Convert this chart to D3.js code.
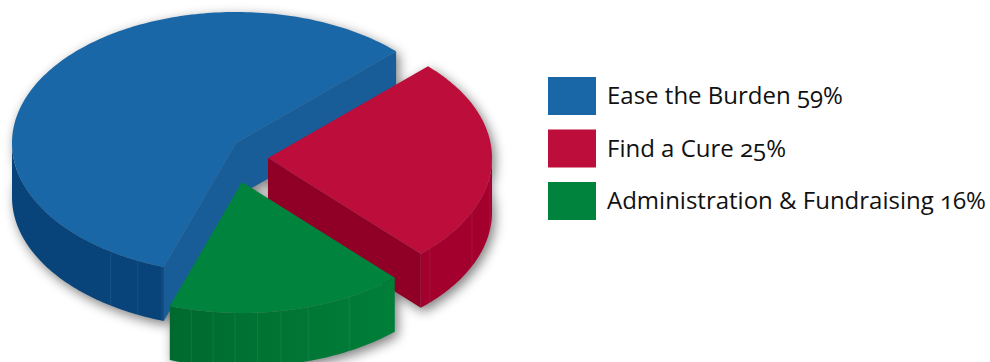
<!DOCTYPE html>
<html>
<head>
<meta charset="utf-8">
<style>
  html, body { margin: 0; padding: 0; background: #fff; overflow: hidden; }
  svg { display: block; }
  .legend-label {
    font-family: "Open Sans", "Noto Sans", sans-serif;
    font-size: 24px;
    font-feature-settings: "onum" 1;
    fill: #111;
  }
</style>
<script src="https://cdnjs.cloudflare.com/ajax/libs/d3/7.9.0/d3.min.js"></script>
</head>
<body>
<svg id="chart" width="990" height="362"></svg>
<script>
// Share of funds by purpose, in percent.
const categories = ["Ease the Burden", "Find a Cure", "Administration & Fundraising"];
const shares = [59, 25, 16];
const topColors = ["#1967a7", "#bd0d3a", "#00843d"];
const radialWallColors = ["#185c98", "#900026", "#006b2f"];
const outerWallColors = ["#08447a", "#a3002e", "#007a36"];
// Exploded centre of each slice on the page.
const sliceCentres = [[236, 143], [268, 158], [242, 182]];
// Angles, in degrees clockwise from the top, of the faint panel joins on each rim.
const rimJoins = [[199.3, 206, 214], [98, 114.4, 133.7], [151.4, 162.8, 170, 176, 181.8, 187.4, 193]];

const radiusX = 224, radiusY = 131, depth = 54;
const svg = d3.select("#chart");
const toRad = Math.PI / 180;

const unitX = d3.scaleLinear().domain([-1, 1]).range([-radiusX, radiusX]);
const unitY = d3.scaleLinear().domain([-1, 1]).range([radiusY, -radiusY]);

// The camera sits close to the disc, so angles near the viewer open up slightly.
const nearStretch = t => t + toRad * (-4.25 * Math.sin(t) - 0.99 * Math.cos(t) + 4.31);

const pie = d3.pie().sort(null)
  .startAngle(192.6 * toRad)
  .endAngle(552.6 * toRad);

const slices = pie(shares).map((d, i) => ({
  index: i,
  t0: nearStretch(d.startAngle),
  t1: nearStretch(d.endAngle),
  cx: sliceCentres[i][0],
  cy: sliceCentres[i][1]
}));

const rimPoint = (s, t, drop = 0) => [
  s.cx + unitX(Math.sin(t)),
  s.cy + unitY(Math.cos(t)) + drop
];
const polyline = d3.line();
const samples = (a, b) => {
  const n = Math.max(2, Math.ceil(Math.abs(b - a) / (1 * toRad)));
  return d3.range(n + 1).map(k => a + (b - a) * k / n);
};

const topPath = (s, drop = 0) => polyline([
  [s.cx, s.cy + drop],
  ...samples(s.t0, s.t1).map(t => rimPoint(s, t, drop))
]) + "Z";

const bandPath = (s, a, b) => polyline([
  ...samples(a, b).map(t => rimPoint(s, t)),
  ...samples(b, a).map(t => rimPoint(s, t, depth))
]) + "Z";

const radialPath = (s, t) => polyline([
  [s.cx, s.cy],
  rimPoint(s, t),
  rimPoint(s, t, depth),
  [s.cx, s.cy + depth]
]) + "Z";

// Front-facing stretch of a slice's rim: only where the angle lies in the lower half.
const frontRim = s => {
  for (const k of [0, 1, 2]) {
    const lo = Math.max(s.t0, Math.PI / 2 + k * 2 * Math.PI - 2 * Math.PI);
    const hi = Math.min(s.t1, 1.5 * Math.PI + k * 2 * Math.PI - 2 * Math.PI);
    if (hi > lo) return [lo, hi];
  }
  return null;
};

const defs = svg.append("defs");
const blur = defs.append("filter").attr("id", "groundBlur")
  .attr("x", "-20%").attr("y", "-20%").attr("width", "140%").attr("height", "140%");
blur.append("feGaussianBlur").attr("stdDeviation", 6);

// Green rim gets slightly darker toward the left, away from the light.
const greenRim = defs.append("linearGradient").attr("id", "greenRim");
greenRim.append("stop").attr("offset", "0%").attr("stop-color", "#006a2e");
greenRim.append("stop").attr("offset", "100%").attr("stop-color", "#007f39");

// Soft cast shadow on the ground under all three slices.
const shadow = svg.append("g")
  .attr("filter", "url(#groundBlur)")
  .attr("transform", "translate(3,4)")
  .attr("fill", "#000")
  .attr("opacity", 0.5);
slices.forEach(s => {
  shadow.append("path").attr("d", topPath(s));
  shadow.append("path").attr("d", topPath(s, depth));
  shadow.append("path").attr("d", radialPath(s, s.t0));
  shadow.append("path").attr("d", radialPath(s, s.t1));
  shadow.append("path").attr("d", bandPath(s, s.t0, s.t1));
});

// Slices, back to front.
const group = svg.append("g");
slices.forEach(s => {
  const i = s.index;
  const g = group.append("g");
  if (Math.sin(s.t0) < 0) {
    g.append("path").attr("d", radialPath(s, s.t0)).attr("fill", radialWallColors[i]);
  }
  if (Math.sin(s.t1) > 0) {
    g.append("path").attr("d", radialPath(s, s.t1)).attr("fill", radialWallColors[i]);
  }
  const span = frontRim(s);
  if (span) {
    g.append("path").attr("d", bandPath(s, span[0], span[1]))
      .attr("fill", i === 2 ? "url(#greenRim)" : outerWallColors[i]);
  }
  rimJoins[i].forEach(deg => {
    const t = deg * toRad;
    const a = rimPoint(s, t), b = rimPoint(s, t, depth);
    g.append("line")
      .attr("x1", a[0]).attr("y1", a[1]).attr("x2", b[0]).attr("y2", b[1])
      .attr("stroke", "#fff").attr("stroke-opacity", 0.09).attr("stroke-width", 0.8);
  });
  g.append("path").attr("d", topPath(s)).attr("fill", topColors[i]);
});

// Legend.
const legendY = d3.scalePoint().domain(categories).range([96, 201]);
const legend = svg.append("g").selectAll("g").data(categories).join("g")
  .attr("transform", d => `translate(548,${legendY(d)})`);
legend.append("rect")
  .attr("x", 0).attr("y", -19).attr("width", 48).attr("height", 38)
  .attr("fill", (d, i) => topColors[i]);
legend.append("text")
  .attr("class", "legend-label")
  .attr("x", 59).attr("y", 8)
  .text((d, i) => `${d} ${shares[i]}%`);
</script>
</body>
</html>
